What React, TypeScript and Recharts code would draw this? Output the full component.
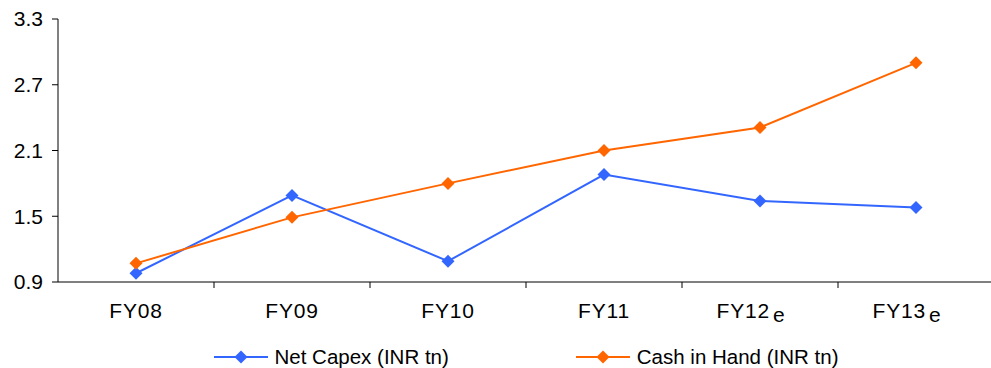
import React from 'react';
import { LineChart, Line, XAxis, YAxis, Legend } from 'recharts';

const categories = ['FY08', 'FY09', 'FY10', 'FY11', 'FY12e', 'FY13e'];
const netCapex = [0.98, 1.69, 1.09, 1.88, 1.64, 1.58];
const cashInHand = [1.07, 1.49, 1.80, 2.10, 2.31, 2.90];
const yTicks = [0.9, 1.5, 2.1, 2.7, 3.3];

const BLUE = '#3366FF';
const ORANGE = '#FF6600';
const FONT = '"Liberation Sans", Arial, sans-serif';

// categories sit at half steps so the axis ticks can fall between them
const data = categories.map((name, i) => ({
  pos: i + 0.5,
  name,
  netCapex: netCapex[i],
  cashInHand: cashInHand[i],
}));

const xTicks: number[] = [];
for (let i = 0; i <= categories.length * 2; i++) xTicks.push(i / 2);

const Diamond = (props: any) => {
  const { cx, cy, fill } = props;
  if (cx == null || cy == null) return null;
  const r = 6.5;
  return (
    <polygon
      points={`${cx},${cy - r} ${cx + r},${cy} ${cx},${cy + r} ${cx - r},${cy}`}
      fill={fill}
    />
  );
};

const CategoryTick = (props: any) => {
  const { x, y, payload } = props;
  const v = payload.value as number;
  if (Number.isInteger(v)) {
    if (v <= 0 || v >= categories.length) return <g />;
    return <line x1={x} x2={x} y1={y} y2={y + 6} stroke="#000" strokeWidth={1} />;
  }
  const label = categories[Math.floor(v)];
  const est = label.endsWith('e');
  return (
    <text x={est ? x - 9 : x} y={y + 36} textAnchor="middle" fill="#000" fontSize={21} fontFamily={FONT} letterSpacing={0.8}>
      {est ? label.slice(0, -1) : label}
      {est && <tspan dx={3} dy={4}>e</tspan>}
    </text>
  );
};

const LegendContent = () => {
  const items = [
    { label: 'Net Capex (INR tn)', color: BLUE },
    { label: 'Cash in Hand (INR tn)', color: ORANGE },
  ];
  return (
    <div style={{ display: 'flex', justifyContent: 'center', alignItems: 'center', height: 30, paddingTop: 4, fontFamily: FONT, fontSize: 20.5, color: '#000' }}>
      {items.map((it, i) => (
        <div key={it.label} style={{ display: 'flex', alignItems: 'center', marginRight: i === 0 ? 127 : 0 }}>
          <svg width={54} height={16} style={{ marginRight: 7 }}>
            <line x1={0} x2={54} y1={8} y2={8} stroke={it.color} strokeWidth={2} />
            <polygon points="27,1.5 33.5,8 27,14.5 20.5,8" fill={it.color} />
          </svg>
          <span>{it.label}</span>
        </div>
      ))}
    </div>
  );
};

export default function App() {
  return (
    <div style={{ position: 'absolute', left: 0, top: 0, width: 991, height: 368, overflow: 'hidden', background: '#fff' }}>
      <LineChart width={1000} height={368} data={data} margin={{ top: 19, right: 6, left: 0, bottom: 0 }}>
        <XAxis
          dataKey="pos"
          type="number"
          domain={[0, categories.length]}
          ticks={xTicks}
          interval={0}
          tickSize={0}
          tickMargin={0}
          tickLine={false}
          tick={<CategoryTick />}
          axisLine={{ stroke: '#000', strokeWidth: 1 }}
          height={56}
        />
        <YAxis
          domain={[0.9, 3.3]}
          ticks={yTicks}
          interval={0}
          width={58}
          tickSize={6}
          tickMargin={9}
          tickFormatter={(v: number) => v.toFixed(1)}
          tick={{ fill: '#000', fontSize: 21, fontFamily: FONT }}
          tickLine={{ stroke: '#000' }}
          axisLine={{ stroke: '#000', strokeWidth: 1 }}
        />
        <Legend
          verticalAlign="bottom"
          height={30}
          wrapperStyle={{ left: 58, width: 936 }}
          content={<LegendContent />}
        />
        <Line
          dataKey="netCapex"
          stroke={BLUE}
          strokeWidth={2}
          dot={<Diamond fill={BLUE} />}
          activeDot={false}
          isAnimationActive={false}
        />
        <Line
          dataKey="cashInHand"
          stroke={ORANGE}
          strokeWidth={2}
          dot={<Diamond fill={ORANGE} />}
          activeDot={false}
          isAnimationActive={false}
        />
      </LineChart>
    </div>
  );
}
